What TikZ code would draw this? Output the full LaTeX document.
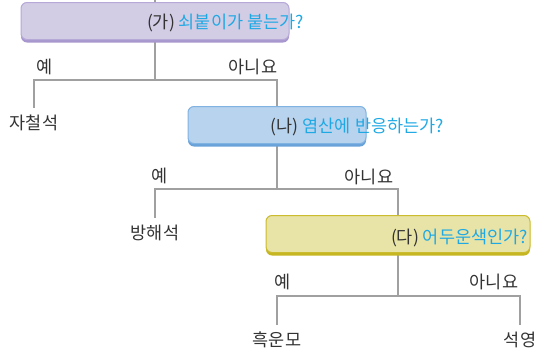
\documentclass[tikz,border=0pt]{standalone}
\usepackage{fontspec}
\setmainfont{Noto Sans CJK KR}
\usetikzlibrary{shadows,backgrounds}
\definecolor{lgray}{HTML}{A0A0A0}
\definecolor{qcyan}{HTML}{1FA9E4}
\definecolor{tdark}{HTML}{333333}
\definecolor{pfill}{HTML}{D3CCE5}
\definecolor{pdraw}{HTML}{B6A8D7}
\definecolor{pshade}{HTML}{A797CE}
\definecolor{bfill}{HTML}{B8D3EE}
\definecolor{bdraw}{HTML}{80B2E2}
\definecolor{bshade}{HTML}{68A2D9}
\definecolor{yfill}{HTML}{E8E3A6}
\definecolor{ydraw}{HTML}{CBBB2E}
\definecolor{yshade}{HTML}{C6B622}
\tikzset{
  qbox/.style n args={3}{draw=#2, fill=#1, line width=1pt, rounded corners=6pt,
    drop shadow={shadow xshift=0pt, shadow yshift=-3pt, fill=#3, opacity=1},
    minimum height=37pt, inner sep=0pt},
  qtext/.style={anchor=east, inner sep=0pt, font=\fontsize{17.5}{19}\selectfont, text=tdark},
  leaf/.style={anchor=north, inner xsep=0pt, inner ysep=7pt, font=\fontsize{17.5}{19}\selectfont, text=tdark},
  ans/.style={inner sep=0pt, font=\fontsize{17.5}{19}\selectfont, text=tdark},
  tline/.style={draw=lgray, line width=1.5pt}
}
\begin{document}
\begin{tikzpicture}[x=1pt,y=-1pt]
    \useasboundingbox (0,0) rectangle (536,354);

    % (ga) magnet
    \coordinate (t0) at (155,0);
    \node [qbox={pfill}{pdraw}{pshade}, minimum width=268pt, name=a1] at (155,21) {};
    \node [qtext, name=a2] at (304,23) {(가) \textcolor{qcyan}{쇠붙이가 붙는가?}};
    \coordinate (j1) at (155,80);
    \node [ans, name=a3] at (45,67) {예};
    \node [ans, name=a4] at (253,67) {아니요};
    \node [leaf, name=a5] at (34,108) {자철석};

    % (na) acid
    \node [qbox={bfill}{bdraw}{bshade}, minimum width=178pt, name=b1] at (277,125) {};
    \node [qtext, name=b2] at (444,127) {(나) \textcolor{qcyan}{염산에 반응하는가?}};
    \coordinate (j2) at (277,189);
    \node [ans, name=b3] at (160,176) {예};
    \node [ans, name=b4] at (369,177) {아니요};
    \node [leaf, name=b5] at (155,218) {방해석};

    % (da) dark colour
    \node [qbox={yfill}{ydraw}{yshade}, minimum width=264pt, name=c1] at (398,234) {};
    \node [qtext, name=c2] at (528,238) {(다) \textcolor{qcyan}{어두운색인가?}};
    \coordinate (j3) at (398,296);
    \node [ans, name=c3] at (283,282) {예};
    \node [ans, name=c4] at (494,282) {아니요};
    \node [leaf, name=c5] at (277,325) {흑운모};
    \node [leaf, name=c6] at (520,325) {석영};

    % tree lines
    \begin{scope}[on background layer]
    \draw [tline] (t0) -- (a1.north);
    \draw [tline] (a1.south) -- (j1);
    \draw [tline] (a5.north) |- (j1) -| (b1.north);
    \draw [tline] (b1.south) -- (j2);
    \draw [tline] (b5.north) |- (j2) -| (c1.north);
    \draw [tline] (c1.south) -- (j3);
    \draw [tline] (c5.north) |- (j3) -| (c6.north);
    \end{scope}
  \end{tikzpicture}
\end{document}
